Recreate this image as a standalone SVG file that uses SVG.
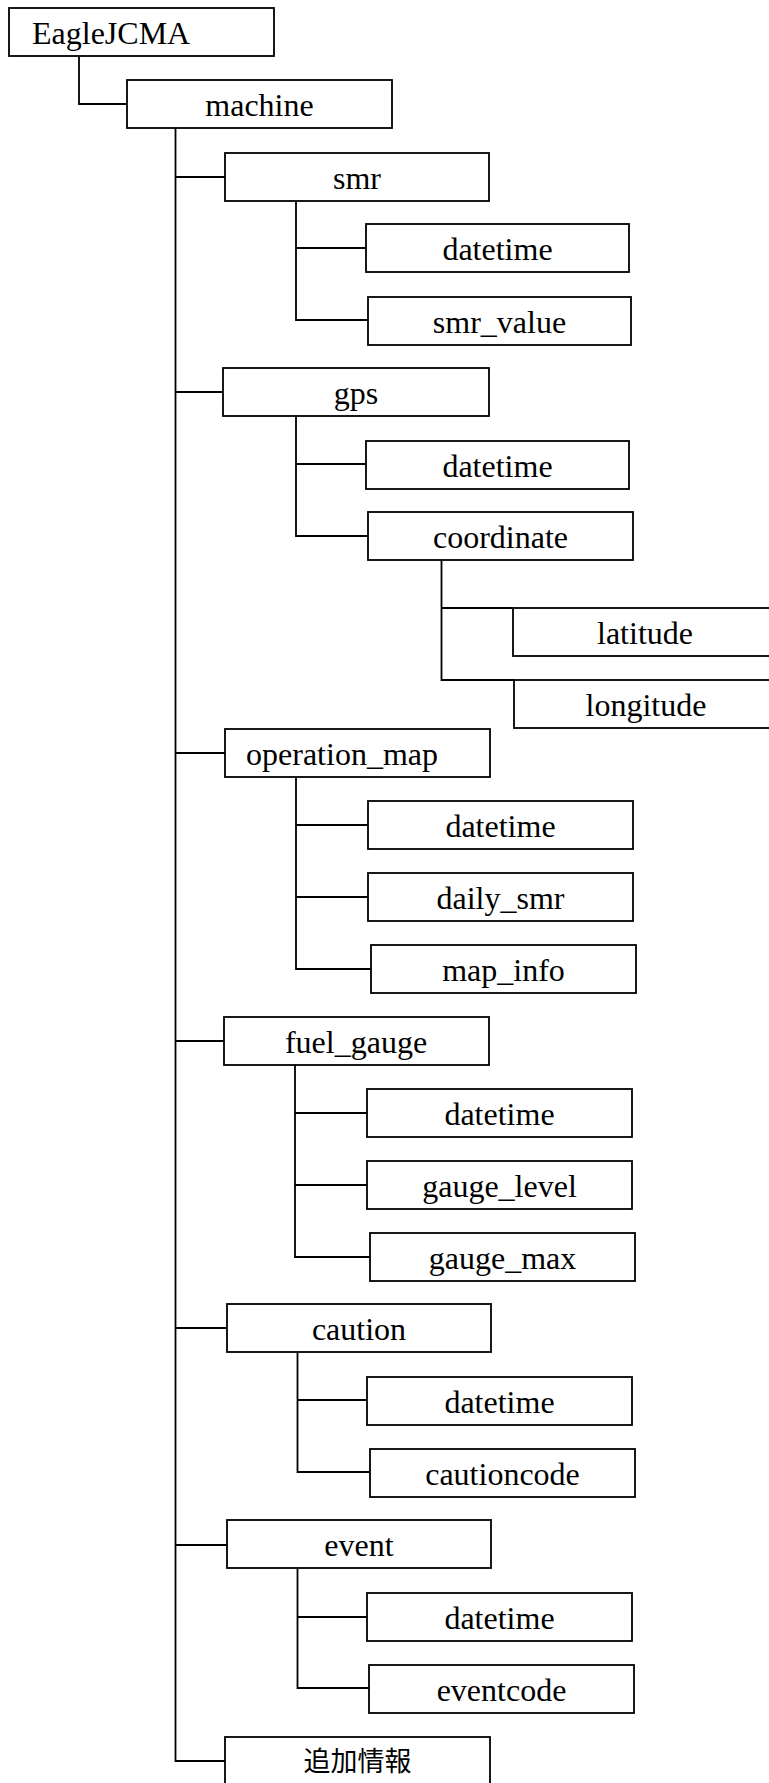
<svg xmlns="http://www.w3.org/2000/svg" width="769" height="1783" viewBox="0 0 769 1783">
<style>
.box{fill:#fff;stroke:#000;stroke-width:1.8}
.lbl{font-family:"Liberation Serif","Times New Roman",serif;font-size:32px;fill:#000;text-anchor:middle}
.cjk{font-family:"Noto Sans CJK JP","Noto Sans CJK SC",sans-serif;font-size:27px;fill:#000;text-anchor:middle}
.conn{fill:none;stroke:#000;stroke-width:1.8}
</style>
<rect width="769" height="1783" fill="#fff"/>
<g id="connectors">
<path class="conn" d="M79,56 V104 H127"/>
<path class="conn" d="M175.5,128 V1761 H225"/>
<path class="conn" d="M175.5,177 H225 M175.5,392 H223 M175.5,753 H225 M175.5,1041 H224 M175.5,1328 H227 M175.5,1545 H227"/>
<path class="conn" d="M296,201 V320 H368 M296,248 H366"/>
<path class="conn" d="M296,417 V536 H368 M296,464 H366"/>
<path class="conn" d="M441.5,560 V680 H514 M441.5,608 H513"/>
<path class="conn" d="M296,777 V969 H371 M296,825 H368 M296,897 H368"/>
<path class="conn" d="M295,1065 V1257 H370 M295,1113 H367 M295,1185 H367"/>
<path class="conn" d="M297.5,1353 V1472 H370 M297.5,1400 H367"/>
<path class="conn" d="M297.5,1569 V1688 H369 M297.5,1617 H367"/>
</g>
<g id="EagleJCMA"><rect class="box" x="9" y="8" width="265" height="48"/><text class="lbl" x="32" y="44" style="text-anchor:start">EagleJCMA</text></g>
<g id="machine"><rect class="box" x="127" y="80" width="265" height="48"/><text class="lbl" x="259.5" y="116">machine</text></g>
<g id="smr"><rect class="box" x="225" y="153" width="264" height="48"/><text class="lbl" x="357" y="189">smr</text></g>
<g id="smr_datetime"><rect class="box" x="366" y="224" width="263" height="48"/><text class="lbl" x="497.5" y="260">datetime</text></g>
<g id="smr_value"><rect class="box" x="368" y="297" width="263" height="48"/><text class="lbl" x="499.5" y="333">smr_value</text></g>
<g id="gps"><rect class="box" x="223" y="368" width="266" height="48"/><text class="lbl" x="356" y="404">gps</text></g>
<g id="gps_datetime"><rect class="box" x="366" y="441" width="263" height="48"/><text class="lbl" x="497.5" y="477">datetime</text></g>
<g id="coordinate"><rect class="box" x="368" y="512" width="265" height="48"/><text class="lbl" x="500.5" y="548">coordinate</text></g>
<g id="latitude"><rect class="box" x="513" y="608" width="264" height="48"/><text class="lbl" x="645" y="644">latitude</text></g>
<g id="longitude"><rect class="box" x="514" y="680" width="264" height="48"/><text class="lbl" x="646" y="716">longitude</text></g>
<g id="operation_map"><rect class="box" x="225" y="729" width="265" height="48"/><text class="lbl" x="342" y="765">operation_map</text></g>
<g id="op_datetime"><rect class="box" x="368" y="801" width="265" height="48"/><text class="lbl" x="500.5" y="837">datetime</text></g>
<g id="daily_smr"><rect class="box" x="368" y="873" width="265" height="48"/><text class="lbl" x="500.5" y="909">daily_smr</text></g>
<g id="map_info"><rect class="box" x="371" y="945" width="265" height="48"/><text class="lbl" x="503.5" y="981">map_info</text></g>
<g id="fuel_gauge"><rect class="box" x="224" y="1017" width="265" height="48"/><text class="lbl" x="356" y="1053">fuel_gauge</text></g>
<g id="fg_datetime"><rect class="box" x="367" y="1089" width="265" height="48"/><text class="lbl" x="499.5" y="1125">datetime</text></g>
<g id="gauge_level"><rect class="box" x="367" y="1161" width="265" height="48"/><text class="lbl" x="499.5" y="1197">gauge_level</text></g>
<g id="gauge_max"><rect class="box" x="370" y="1233" width="265" height="48"/><text class="lbl" x="502.5" y="1269">gauge_max</text></g>
<g id="caution"><rect class="box" x="227" y="1304" width="264" height="48"/><text class="lbl" x="359" y="1340">caution</text></g>
<g id="caution_datetime"><rect class="box" x="367" y="1377" width="265" height="48"/><text class="lbl" x="499.5" y="1413">datetime</text></g>
<g id="cautioncode"><rect class="box" x="370" y="1449" width="265" height="48"/><text class="lbl" x="502.5" y="1485">cautioncode</text></g>
<g id="event"><rect class="box" x="227" y="1520" width="264" height="48"/><text class="lbl" x="359" y="1556">event</text></g>
<g id="event_datetime"><rect class="box" x="367" y="1593" width="265" height="48"/><text class="lbl" x="499.5" y="1629">datetime</text></g>
<g id="eventcode"><rect class="box" x="369" y="1665" width="265" height="48"/><text class="lbl" x="501.5" y="1701">eventcode</text></g>
<g id="additional"><rect class="box" x="225" y="1737" width="265" height="60"/><text class="cjk" x="357.5" y="1771">追加情報</text></g>
</svg>
